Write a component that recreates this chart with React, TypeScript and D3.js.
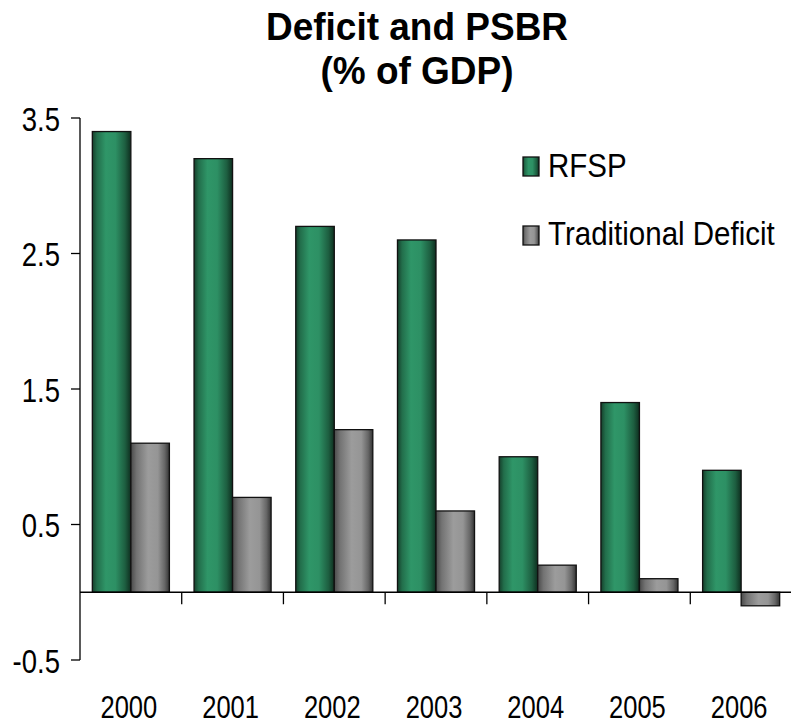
import React from 'react';
import * as d3 from 'd3';

const years = ['2000', '2001', '2002', '2003', '2004', '2005', '2006'];
const rfsp = [3.4, 3.2, 2.7, 2.6, 1.0, 1.4, 0.9];
const traditional = [1.1, 0.7, 1.2, 0.6, 0.2, 0.1, -0.1];
const seriesNames = ['RFSP', 'Traditional Deficit'];
const yTicks = [-0.5, 0.5, 1.5, 2.5, 3.5];
const titleLines = ['Deficit and PSBR', '(% of GDP)'];

export default function App() {
  const W = 791;
  const H = 727;
  const left = 80;
  const right = 792;
  const x0 = d3.scaleBand<string>().domain(years).range([left, right]);
  const x1 = d3
    .scaleBand<string>()
    .domain(seriesNames)
    .range([0, x0.bandwidth()])
    .paddingInner(0)
    .paddingOuter(0.32);
  const y = d3.scaleLinear().domain([-0.5, 3.5]).range([660, 118]);
  const y0 = y(0);
  const font = "'Liberation Sans', Arial, sans-serif";
  const fills = ['url(#gGreen)', 'url(#gGray)'];
  const series = [rfsp, traditional];

  return (
    <svg
      width={W}
      height={H}
      style={{ position: 'absolute', left: 0, top: 0, display: 'block', background: '#fff' }}
    >
      <defs>
        <linearGradient id="gGreen" x1="0" y1="0" x2="1" y2="0">
          <stop offset="0" stopColor="#153f2b" />
          <stop offset="0.12" stopColor="#226e4b" />
          <stop offset="0.35" stopColor="#2f9668" />
          <stop offset="0.6" stopColor="#2d9064" />
          <stop offset="0.85" stopColor="#1d5e40" />
          <stop offset="1" stopColor="#0e2e1f" />
        </linearGradient>
        <linearGradient id="gGray" x1="0" y1="0" x2="1" y2="0">
          <stop offset="0" stopColor="#4a4a4a" />
          <stop offset="0.15" stopColor="#737373" />
          <stop offset="0.45" stopColor="#9c9c9c" />
          <stop offset="0.7" stopColor="#959595" />
          <stop offset="0.88" stopColor="#666" />
          <stop offset="1" stopColor="#333" />
        </linearGradient>
      </defs>

      {titleLines.map((t, i) => (
        <text
          key={t}
          transform={`translate(417,${40 + i * 44}) scale(1,1.05)`}
          textAnchor="middle"
          fontFamily={font}
          fontWeight="bold"
          fontSize={37}
          fill="#000"
        >
          {t}
        </text>
      ))}

      {years.map((yr, i) =>
        series.map((s, si) => {
          const v = s[i];
          const bx = (x0(yr) as number) + (x1(seriesNames[si]) as number);
          const top = Math.min(y(v), y0);
          const h = Math.abs(y(v) - y0);
          return (
            <rect
              key={yr + si}
              x={bx}
              y={top}
              width={x1.bandwidth()}
              height={h}
              fill={fills[si]}
              stroke="#111"
              strokeWidth={1.3}
            />
          );
        })
      )}

      {/* y axis */}
      <line x1={left} x2={left} y1={y(3.5)} y2={y(-0.5)} stroke="#000" strokeWidth={1.3} />
      {yTicks.map((t) => (
        <g key={t}>
          <line x1={left - 9} x2={left} y1={y(t)} y2={y(t)} stroke="#000" strokeWidth={1.3} />
          <text
            transform={`translate(60,${y(t) + 12.5}) scale(1,1.2)`}
            textAnchor="end"
            fontFamily={font}
            fontSize={27.5}
            fill="#000"
          >
            {String(t)}
          </text>
        </g>
      ))}

      {/* x axis */}
      <line x1={left} x2={right} y1={y0} y2={y0} stroke="#000" strokeWidth={1.3} />
      {years.map((yr) => {
        const bx = (x0(yr) as number) + x0.bandwidth();
        return (
          <line key={'t' + yr} x1={bx} x2={bx} y1={y0} y2={y0 + 12} stroke="#000" strokeWidth={1.3} />
        );
      })}
      {years.map((yr) => (
        <text
          key={'l' + yr}
          transform={`translate(${(x0(yr) as number) + x0.bandwidth() / 2 - 2},718) scale(1,1.25)`}
          textAnchor="middle"
          fontFamily={font}
          fontSize={25.5}
          fill="#000"
        >
          {yr}
        </text>
      ))}

      {/* legend */}
      {seriesNames.map((n, i) => (
        <g key={n}>
          <rect
            x={523}
            y={157 + i * 69}
            width={16}
            height={19}
            fill={fills[i]}
            stroke="#111"
            strokeWidth={1.3}
          />
          <text
            transform={`translate(548,${177 + i * 68}) scale(1,1.1)`}
            fontFamily={font}
            fontSize={29.5}
            fill="#000"
          >
            {n}
          </text>
        </g>
      ))}
    </svg>
  );
}
